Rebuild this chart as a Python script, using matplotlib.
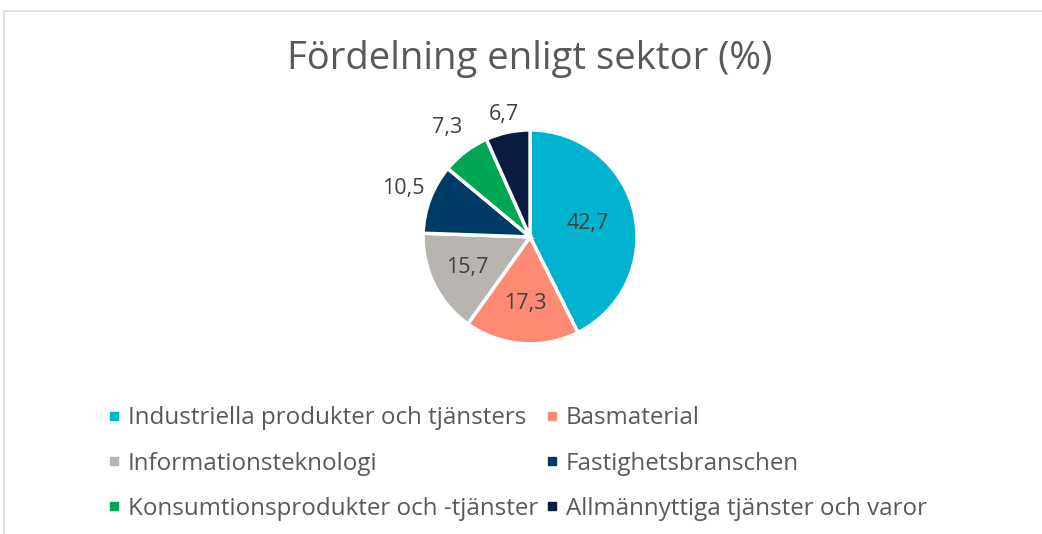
import matplotlib
matplotlib.use("Agg")
import matplotlib.pyplot as plt
from matplotlib.patches import Rectangle
from matplotlib.lines import Line2D
import numpy as np

# Data
sektorer = [
    "Industriella produkter och tjänsters",
    "Basmaterial",
    "Informationsteknologi",
    "Fastighetsbranschen",
    "Konsumtionsprodukter och -tjänster",
    "Allmännyttiga tjänster och varor",
]
andelar = [42.7, 17.3, 15.7, 10.5, 7.3, 6.7]
farger = ["#00B4CF", "#FF8A73", "#B8B4B0", "#003A66", "#00A651", "#0A1A40"]
etikett_avstand = [0.55, 0.62, 0.65, 1.27, 1.28, 1.17]

plt.rcParams["font.family"] = ["Open Sans", "DejaVu Sans"]

fig = plt.figure(figsize=(10.42, 5.34), dpi=100)

# ram
fig.patches.append(Rectangle((4 / 1042, -0.05), 1.2, (523 / 534) + 0.05,
                             transform=fig.transFigure, fill=False,
                             edgecolor="#D9D9D9", linewidth=1.2))

fig.text(0.508, 0.89, "Fördelning enligt sektor (%)", ha="center", va="center",
         fontsize=27.5, color="#595959")

ax = fig.add_axes([0.406, 0.356, 0.2054, 0.4007])
wedges, _ = ax.pie(andelar, colors=farger, startangle=90, counterclock=False,
                   radius=1.0, wedgeprops=dict(edgecolor="white", linewidth=2.5))
ax.set_xlim(-1, 1)
ax.set_ylim(-1, 1)
ax.axis("off")

for w, v, d in zip(wedges, andelar, etikett_avstand):
    ang = np.deg2rad((w.theta1 + w.theta2) / 2)
    ax.text(d * np.cos(ang), d * np.sin(ang), f"{v:.1f}".replace(".", ","),
            ha="center", va="center", fontsize=15.5, color="#404040", clip_on=False)

# legenden radvis: ordna om for ncol=2
handles = [Line2D([], [], marker="s", linestyle="", markersize=6,
                  markerfacecolor=c, markeredgecolor=c) for c in farger]
ordning = [0, 2, 4, 1, 3, 5]
leg = fig.legend([handles[i] for i in ordning], [sektorer[i] for i in ordning],
                 ncol=2, loc="center", bbox_to_anchor=(0.496, 0.132), frameon=False,
                 fontsize=17.4, handlelength=0.55, handletextpad=0.3,
                 columnspacing=0.3, labelspacing=0.87, labelcolor="#595959")

fig.savefig("out.png", dpi=100)
